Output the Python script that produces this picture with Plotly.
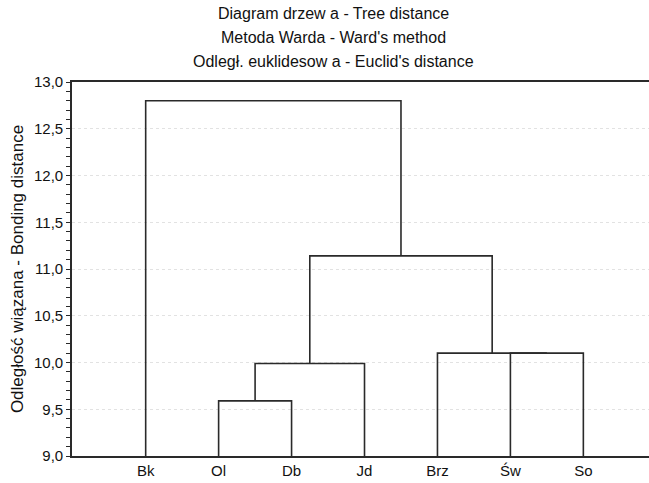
import plotly.graph_objects as go

# Leaves (in dendrogram order)
labels = ["Bk", "Ol", "Db", "Jd", "Brz", "Św", "So"]
# Merges: (left member, right member, linkage distance); members are leaf indices or "c<k>" for earlier clusters
merge_left = [1, "c0", 5, 4, "c1", 0]
merge_right = [2, 3, 6, "c2", "c3", "c4"]
merge_height = [9.59, 9.99, 10.10, 10.10, 11.14, 12.80]

y_min, y_max = 9.0, 13.0
y_ticks = [9.0, 9.5, 10.0, 10.5, 11.0, 11.5, 12.0, 12.5, 13.0]

title_lines = [
    "Diagram drzew a - Tree distance",
    "Metoda Warda - Ward's method",
    "Odległ. euklidesow a - Euclid's distance",
]
y_title = "Odległość wiązana - Bonding distance"

# Build dendrogram segments from the merge data
pos = {}
for i in range(len(labels)):
    pos[i] = (i, y_min)
xs, ys = [], []
for k, (a, b, h) in enumerate(zip(merge_left, merge_right, merge_height)):
    xa, ya = pos[a]
    xb, yb = pos[b]
    xs += [xa, xa, xb, xb, None]
    ys += [ya, h, h, yb, None]
    pos["c%d" % k] = ((xa + xb) / 2, h)

font_family = "Liberation Sans, Arial, sans-serif"
line_col = "#2a2a2a"

fig = go.Figure()
fig.add_trace(go.Scatter(
    x=xs, y=ys, mode="lines",
    line=dict(color=line_col, width=1.6),
    hoverinfo="skip", showlegend=False,
))

for i, t in enumerate(title_lines):
    fig.add_annotation(
        text=t, xref="paper", yref="paper",
        x=(333 - 72) / (649 - 72), y=1,
        yshift=82 - 13 - 24 * i,
        xanchor="center", yanchor="middle",
        showarrow=False,
        font=dict(family=font_family, size=16, color="#111"),
    )

fig.update_layout(
    width=649, height=483,
    margin=dict(l=72, r=0, t=82, b=27),
    paper_bgcolor="white", plot_bgcolor="white",
    separators=", ",
    font=dict(family=font_family, size=14, color="#111"),
    xaxis=dict(
        range=[-1.01, 6.9],
        tickmode="array",
        tickvals=list(range(len(labels))),
        ticktext=labels,
        tickfont=dict(size=15),
        showline=True, linecolor=line_col, linewidth=1.6, mirror=True,
        showgrid=False, zeroline=False,
        ticks="", ticklabelstandoff=0,
    ),
    yaxis=dict(
        range=[y_min, y_max],
        tickmode="array",
        tickvals=y_ticks,
        tickformat=".1f",
        tickfont=dict(size=15),
        showline=True, linecolor=line_col, linewidth=1.6, mirror=False,
        showgrid=True, gridcolor="#e2e2e2", griddash="dot", gridwidth=1,
        zeroline=False,
        ticks="outside", ticklen=4, tickcolor=line_col, tickwidth=1,
        minor=dict(dtick=0.1, ticks="outside", ticklen=4, tickcolor=line_col, tickwidth=1, showgrid=False),
        title=dict(text=y_title, font=dict(family=font_family, size=17), standoff=6),
    ),
)

fig.write_html(
    "out.html",
    config={"displayModeBar": False},
    post_script="document.body.style.margin='0';document.body.style.padding='0';",
)
